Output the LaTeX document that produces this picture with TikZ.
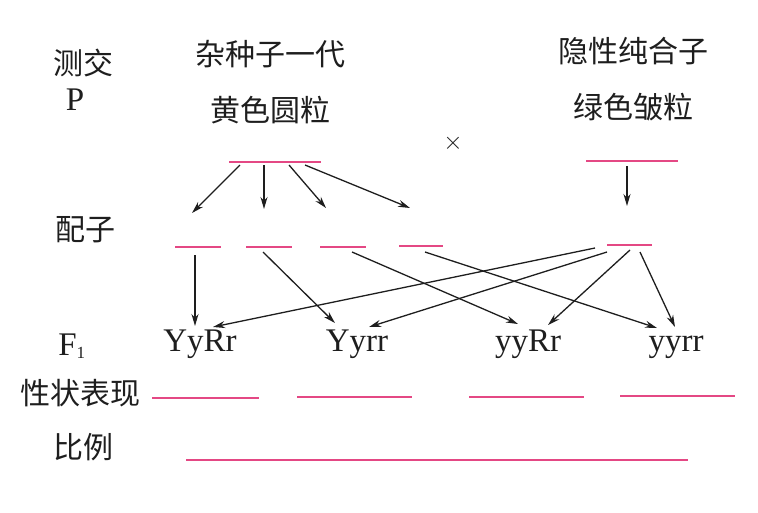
\documentclass[tikz,border=0pt]{standalone}
\usepackage{fontspec}
\setmainfont{Liberation Serif}
\newfontfamily\cjk{Noto Sans CJK SC}
\usetikzlibrary{arrows.meta}
\definecolor{blankpink}{RGB}{228,72,132}
\definecolor{ink}{RGB}{30,30,30}
\begin{document}
\begin{tikzpicture}[x=1pt,y=-1pt,
  cn/.style={font=\cjk\fontsize{30}{32}\selectfont, inner sep=0pt, text=ink},
  gt/.style={font=\fontsize{33}{35}\selectfont, inner sep=0pt, anchor=base, text=ink},
  blank/.style={draw=blankpink, line width=1.4pt},
  arr/.style={draw=ink, line width=1.3pt, -{Stealth[length=12pt,width=7pt]}}]
\useasboundingbox (0,0) rectangle (758,512);
% labels
\node[cn] (lcross) at (83,63) {测交};
\node[gt] (lP) at (75,110) {P};
\node[cn] (pl) at (270,54) {杂种子一代};
\node[cn] (pl2) at (270,110) {黄色圆粒};
\node[cn] (pr) at (633,51) {隐性纯合子};
\node[cn] (pr2) at (633,107) {绿色皱粒};
\node[font=\fontsize{26}{28}\selectfont, inner sep=0pt, text=ink] (x) at (453,143) {$\times$};
\node[cn] (lgam) at (85,230) {配子};
\node[gt] (lF) at (72,355) {F\textsubscript{\fontsize{17}{17}\selectfont 1}};
\node[cn] (lphen) at (80,393) {性状表现};
\node[cn] (lratio) at (83,447) {比例};
% offspring
\node[gt] (o1) at (200,351) {YyRr};
\node[gt] (o2) at (357,351) {Yyrr};
\node[gt] (o3) at (528,351) {yyRr};
\node[gt] (o4) at (676,351) {yyrr};
% blanks
\draw[blank] (229,162) coordinate (pA) -- (321,162) coordinate (pB);
\draw[blank] (586,161) coordinate (qA) -- (678,161) coordinate (qB);
\draw[blank] (175,247) coordinate (g1a) -- (221,247);
\draw[blank] (246,247) coordinate (g2a) -- (292,247);
\draw[blank] (320,247) coordinate (g3a) -- (366,247);
\draw[blank] (399,246) coordinate (g4a) -- (443,246);
\draw[blank] (607,245) coordinate (g5a) -- (652,245);
\draw[blank] (152,398) -- (259,398);
\draw[blank] (297,397) -- (412,397);
\draw[blank] (469,397) -- (584,397);
\draw[blank] (620,396) -- (735,396);
\draw[blank] (186,460) -- (688,460);
% arrows parent -> gametes
\coordinate (s1) at (240,165); \coordinate (e1) at (192,213);
\coordinate (s2) at (264,165); \coordinate (e2) at (264,209);
\coordinate (s3) at (289,165); \coordinate (e3) at (326,208);
\coordinate (s4) at (305,165); \coordinate (e4) at (410,208);
\coordinate (s5) at (627,166); \coordinate (e5) at (627,206);
\draw[arr] (s1) -- (e1);
\draw[arr] (s2) -- (e2);
\draw[arr] (s3) -- (e3);
\draw[arr] (s4) -- (e4);
\draw[arr] (s5) -- (e5);
% gametes -> offspring
\coordinate (t1) at (195,255); \coordinate (u1) at (195,326);
\coordinate (t2) at (263,252); \coordinate (u2) at (335,323);
\coordinate (t3) at (352,252); \coordinate (u3) at (518,324);
\coordinate (t4) at (425,252); \coordinate (u4) at (657,328);
\coordinate (t5) at (595,248); \coordinate (u5) at (213,327);
\coordinate (t6) at (607,252); \coordinate (u6) at (369,327);
\coordinate (t7) at (630,250); \coordinate (u7) at (548,325);
\coordinate (t8) at (640,252); \coordinate (u8) at (675,327);
\draw[arr] (t1) -- (u1);
\draw[arr] (t2) -- (u2);
\draw[arr] (t3) -- (u3);
\draw[arr] (t4) -- (u4);
\draw[arr] (t5) -- (u5);
\draw[arr] (t6) -- (u6);
\draw[arr] (t7) -- (u7);
\draw[arr] (t8) -- (u8);
\end{tikzpicture}
\end{document}
